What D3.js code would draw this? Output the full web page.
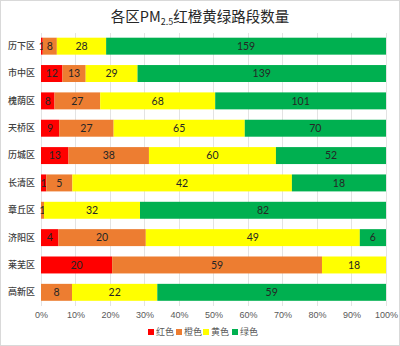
<!DOCTYPE html>
<html><head><meta charset="utf-8">
<script src="https://cdn.jsdelivr.net/npm/d3@7"></script>
<style>body{margin:0;background:#fff}svg{display:block}</style>
</head><body>
<script>
const categories = ["历下区","市中区","槐荫区","天桥区","历城区","长清区","章丘区","济阳区","莱芜区","高新区"];
const seriesNames = ["红色","橙色","黄色","绿色"];
const red    = [1, 12, 8, 9, 13, 1, 0, 4, 20, 0];
const orange = [8, 13, 27, 27, 38, 5, 1, 20, 59, 8];
const yellow = [28, 29, 68, 65, 60, 42, 32, 49, 18, 22];
const green  = [159, 139, 101, 70, 52, 18, 82, 6, 0, 59];
const colors = ["#FF0000","#ED7D31","#FFFF00","#00B050"];
const tickValues = [0,0.1,0.2,0.3,0.4,0.5,0.6,0.7,0.8,0.9,1];

const W = 400, H = 346;
const svg = d3.select("body").append("svg").attr("width", W).attr("height", H);
svg.append("rect").attr("x",0.5).attr("y",0.5).attr("width",W-1).attr("height",H-1)
  .attr("fill","#fff").attr("stroke","#d9d9d9");

const series = [red, orange, yellow, green];
const rows = categories.map((c,i)=>{
  const o = {cat:c};
  seriesNames.forEach((s,j)=>o[s]=series[j][i]);
  return o;
});
const stacked = d3.stack().keys(seriesNames).offset(d3.stackOffsetExpand)(rows);

const x = d3.scaleLinear().domain([0,1]).range([41,386]);
const y = d3.scaleBand().domain(categories).range([32.5,306]).paddingInner(0.38).paddingOuter(0.19);

// title
const title = svg.append("text").attr("x",200).attr("y",22).attr("text-anchor","middle")
  .attr("font-family","'Noto Sans CJK SC'").attr("font-size",14.5).attr("fill","#262626");
title.append("tspan").text("各区PM");
title.append("tspan").attr("font-size",9).attr("dy",3).text("2.5");
title.append("tspan").attr("dy",-3).text("红橙黄绿路段数量");

// grid
svg.append("g").selectAll("line").data(tickValues).join("line")
  .attr("x1",d=>x(d)).attr("x2",d=>x(d)).attr("y1",33).attr("y2",306)
  .attr("stroke","#e3e3e3").attr("stroke-width",1).attr("shape-rendering","crispEdges");

// x axis labels
const xAxis = d3.axisBottom(x).tickValues(tickValues).tickFormat(d3.format(".0%")).tickSize(0).tickPadding(0);
const gx = svg.append("g").attr("transform","translate(0,312)").call(xAxis);
gx.select(".domain").remove();
gx.selectAll("text").attr("font-family","'Liberation Sans', sans-serif").attr("font-size",9).attr("fill","#595959").attr("dy","0.71em");

// y axis labels
const yAxis = d3.axisLeft(y).tickSize(0).tickPadding(6);
const gy = svg.append("g").attr("transform","translate(41,0)").call(yAxis);
gy.select(".domain").remove();
gy.selectAll("text").attr("font-family","'Noto Sans CJK SC'").attr("font-size",9).attr("font-weight",500).attr("fill","#404040");

// bars
const g = svg.append("g");
stacked.forEach((s,j)=>{
  const gs = g.append("g");
  gs.selectAll("rect").data(s).join("rect")
    .attr("x",d=>x(d[0])).attr("width",d=>Math.max(0,x(d[1])-x(d[0])))
    .attr("y",d=>y(d.data.cat)).attr("height",y.bandwidth())
    .attr("fill",colors[j]);
  gs.selectAll("text").data(s.filter(d=>d.data[s.key]>0)).join("text")
    .attr("x",d=>(x(d[0])+x(d[1]))/2).attr("y",d=>y(d.data.cat)+y.bandwidth()/2)
    .attr("dy","0.36em").attr("text-anchor","middle")
    .attr("font-family","Lato, 'Liberation Sans', sans-serif").attr("font-size",10.5).attr("fill","#262626")
    .text(d=>d.data[s.key]);
});

// legend
const legendX = [148, 176, 203, 232];
const lg = svg.append("g");
seriesNames.forEach((s,j)=>{
  lg.append("rect").attr("x",legendX[j]).attr("y",329).attr("width",6).attr("height",6).attr("fill",colors[j]);
  lg.append("text").attr("x",legendX[j]+8).attr("y",332).attr("dy","0.36em")
    .attr("font-family","'Noto Sans CJK SC'").attr("font-size",9).attr("fill","#595959").text(s);
});
</script>
</body></html>
